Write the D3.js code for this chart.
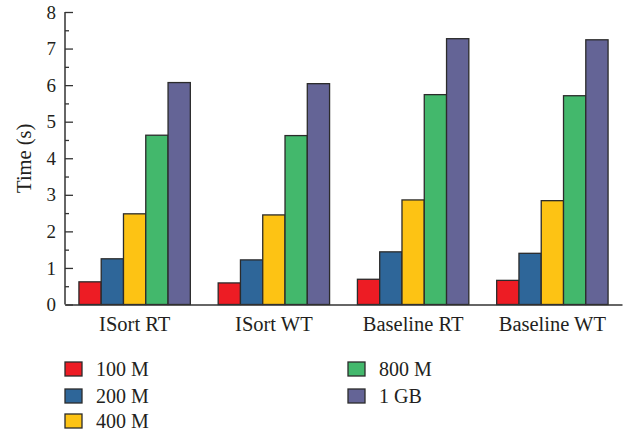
<!DOCTYPE html>
<html>
<head>
<meta charset="utf-8">
<script src="https://cdn.jsdelivr.net/npm/d3@7"></script>
<style>
  body { margin: 0; background: #fff; }
  text { font-family: "Liberation Serif", "DejaVu Serif", serif; fill: #231f20; }
</style>
</head>
<body>
<svg id="chart" width="629" height="434"></svg>
<script>
// data
var groups = ["ISort RT", "ISort WT", "Baseline RT", "Baseline WT"];
var sizes = ["100 M", "200 M", "400 M", "800 M", "1 GB"];
var colors = ["#ed1c24", "#2e6699", "#fdc314", "#43b86c", "#646496"];
var values = [
  [0.62, 1.25, 2.48, 4.63, 6.07],
  [0.59, 1.22, 2.45, 4.62, 6.04],
  [0.69, 1.44, 2.86, 5.74, 7.27],
  [0.66, 1.40, 2.84, 5.71, 7.24]
];
var yTicks = [0, 1, 2, 3, 4, 5, 6, 7, 8];
var yMinor = [0.5, 1.5, 2.5, 3.5, 4.5, 5.5, 6.5, 7.5];

var svg = d3.select("#chart");
var padL = 65, padR = 622, padT = 12, padB = 304.5;

var x = d3.scaleBand().domain(groups).range([padL, padR]).paddingInner(0.2).paddingOuter(0.1);
var xs = d3.scaleBand().domain(sizes).range([0, x.bandwidth()]);
var y = d3.scaleLinear().domain([0, 8]).range([padB, padT]);

// bars
var g = svg.append("g").selectAll("g")
  .data(values)
  .enter().append("g")
  .attr("transform", function(d, i) { return "translate(" + x(groups[i]) + ",0)"; });

g.selectAll("rect")
  .data(function(d) { return d; })
  .enter().append("rect")
  .attr("x", function(d, i) { return xs(sizes[i]); })
  .attr("y", function(d) { return y(d); })
  .attr("width", xs.bandwidth())
  .attr("height", function(d) { return padB - y(d); })
  .attr("fill", function(d, i) { return colors[i]; })
  .attr("stroke", "#2b2b2b")
  .attr("stroke-width", 1.3);

// y axis, ticks point inward
var yAxis = svg.append("g")
  .attr("transform", "translate(" + padL + ",0)")
  .call(d3.axisRight(y).tickValues(yTicks).tickSize(8).tickFormat(""));
yAxis.select(".domain").remove();
yAxis.selectAll("line").attr("stroke", "#333").attr("stroke-width", 1.3);

var yMin = svg.append("g")
  .attr("transform", "translate(" + padL + ",0)")
  .call(d3.axisRight(y).tickValues(yMinor).tickSize(4).tickFormat(""));
yMin.select(".domain").remove();
yMin.selectAll("line").attr("stroke", "#333").attr("stroke-width", 1.3);

svg.append("g").selectAll("text")
  .data(yTicks)
  .enter().append("text")
  .attr("x", padL - 9)
  .attr("y", function(d) { return y(d); })
  .attr("dy", "0.35em")
  .attr("text-anchor", "end")
  .attr("font-size", 19)
  .text(function(d) { return d; });

svg.append("line")
  .attr("x1", padL).attr("x2", padL)
  .attr("y1", padT).attr("y2", padB)
  .attr("stroke", "#333").attr("stroke-width", 1.5);

// x axis
var xAxis = svg.append("g")
  .attr("transform", "translate(0," + padB + ")")
  .call(d3.axisBottom(x).tickSize(0).tickPadding(10));
xAxis.select(".domain").attr("stroke", "#333").attr("stroke-width", 1.5);
xAxis.selectAll("text").attr("font-size", 20.5).attr("font-family", "Liberation Serif").attr("fill", "#231f20").attr("dy", "0.8em");

svg.append("text")
  .attr("transform", "translate(24," + ((padT + padB) / 2) + ") rotate(-90)")
  .attr("text-anchor", "middle")
  .attr("dy", "0.35em")
  .attr("font-size", 20.5)
  .text("Time (s)");

// legend
var legPos = [[65, 369], [65, 396], [65, 421], [348, 369], [348, 396]];
var leg = svg.append("g").selectAll("g")
  .data(sizes)
  .enter().append("g")
  .attr("transform", function(d, i) { return "translate(" + legPos[i][0] + "," + legPos[i][1] + ")"; });

leg.append("rect")
  .attr("x", 0).attr("y", -7)
  .attr("width", 17).attr("height", 14)
  .attr("fill", function(d, i) { return colors[i]; })
  .attr("stroke", "#2b2b2b").attr("stroke-width", 1.3);

leg.append("text")
  .attr("x", 31)
  .attr("dy", "0.35em")
  .attr("font-size", 20)
  .text(function(d) { return d; });
</script>
</body>
</html>
